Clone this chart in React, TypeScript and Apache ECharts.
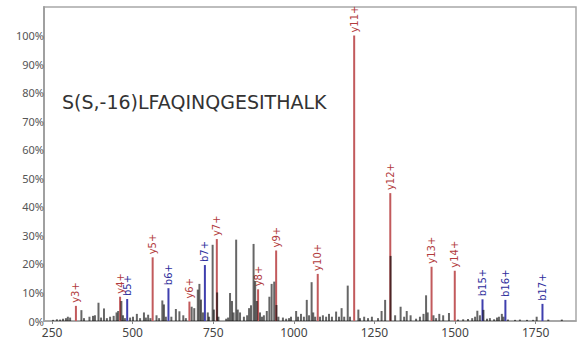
import React, { useEffect, useRef } from "react";
import * as echarts from "echarts";

const peptide = "S(S,-16)LFAQINQGESITHALK";

const xTicks = [250, 500, 750, 1000, 1250, 1500, 1750];

const ionLabels = ["y3+", "y4+", "b5+", "y5+", "b6+", "y6+", "b7+", "y7+", "y8+", "y9+", "y10+", "y11+", "y12+", "y13+", "y14+", "b15+", "b16+", "b17+"];
const ionMz = [324, 461, 483, 562, 611, 676, 724, 761, 889, 945, 1074, 1187, 1299, 1427, 1499, 1585, 1656, 1771];
const ionIntensity = [5.3, 8.5, 7.7, 22.3, 11.5, 6.8, 19.6, 28.7, 11.1, 24.7, 16.5, 100, 44.8, 19.0, 17.6, 7.6, 7.4, 6.0];

const peakMz = [
  253, 265, 275, 284, 293, 299, 306, 341, 349, 366, 377, 383, 394, 402, 411, 420, 430, 441, 450, 455,
  465, 470, 476, 492, 501, 513, 523, 535, 541, 548, 555, 574, 582, 592, 597, 603, 620, 634, 645, 657,
  665, 683, 691, 702, 707, 712, 718, 733, 737, 748, 752, 762, 766, 790, 796, 802, 808, 813, 821, 826,
  833, 845, 855, 861, 867, 875, 880, 885, 895, 901, 907, 916, 924, 931, 939, 946, 952, 966, 976, 985,
  991, 1007, 1013, 1022, 1031, 1040, 1047, 1055, 1060, 1066, 1081, 1090, 1100, 1109, 1118, 1131, 1140, 1148, 1156, 1167,
  1174, 1200, 1205, 1218, 1230, 1242, 1261, 1272, 1283, 1300, 1314, 1331, 1342, 1350, 1362, 1379, 1391, 1402, 1410, 1415,
  1433, 1441, 1451, 1463, 1481, 1509, 1525, 1540, 1553, 1562, 1569, 1577, 1588, 1599, 1608, 1621, 1630, 1636, 1645, 1650,
  1664, 1686, 1701, 1723, 1742, 1753, 1789, 1831,
];
const peakIntensity = [
  0.4, 0.6, 0.5, 0.8, 1.0, 1.5, 1.2, 3.8, 1.0, 1.5, 1.8, 2.0, 6.4, 1.2, 4.4, 1.0, 1.5, 1.8, 3.0, 3.5,
  7.0, 2.0, 1.0, 1.2, 1.5, 2.5, 1.0, 3.0, 1.2, 2.2, 1.0, 2.0, 1.0, 7.2, 5.8, 1.5, 1.5, 4.2, 3.4, 2.0,
  1.0, 5.0, 4.5, 11.0, 13.0, 7.5, 3.0, 3.0, 1.5, 26.7, 4.0, 10.0, 1.5, 0.8, 1.2, 9.8, 7.0, 3.0, 28.5, 4.0,
  3.0, 1.5, 2.0, 4.5, 5.5, 27.0, 14.0, 7.0, 3.0, 1.5, 2.0, 3.5, 8.5, 13.0, 13.8, 5.6, 1.5, 1.2, 0.8, 1.0,
  1.5, 3.5, 1.5, 2.5, 1.5, 7.4, 2.0, 13.6, 3.0, 1.5, 1.5, 2.0, 1.5, 2.5, 1.5, 3.3, 1.5, 4.5, 1.5, 12.4,
  1.5, 4.0, 1.0, 1.5, 1.0, 1.5, 1.0, 3.5, 7.4, 22.8, 2.0, 5.0, 1.5, 3.5, 2.0, 0.8, 1.5, 2.5, 9.0, 3.0,
  2.0, 1.0, 2.5, 2.0, 2.8, 0.5, 0.6, 0.7, 1.0, 1.5, 3.6, 2.0, 3.9, 0.8, 1.0, 0.6, 1.2, 1.5, 2.5, 1.5,
  0.5, 0.4, 0.5, 0.4, 0.4, 1.5, 0.5, 0.5,
];

const RED_BAR = "#c25a5c";
const RED_TEXT = "#b23c3e";
const BLUE_BAR = "#3f3fae";
const BLUE_TEXT = "#2f2f9c";

export default function App() {
  const ref = useRef<HTMLDivElement>(null);

  useEffect(() => {
    if (!ref.current) return;
    const chart = echarts.init(ref.current, undefined, { renderer: "svg" });

    const ionData = ionMz.map((m, i) => [m, ionIntensity[i], i]);
    const peakData = peakMz.map((m, i) => [m, peakIntensity[i]]);

    chart.setOption({
      animation: false,
      grid: {
        left: 44,
        right: 5,
        top: 7,
        bottom: 20,
        show: true,
        borderColor: "#a8a8a8",
        borderWidth: 1.5,
        backgroundColor: "transparent",
      },
      xAxis: {
        type: "value",
        min: 225,
        max: 1875,
        axisLine: { show: true, onZero: false, lineStyle: { color: "#a0a0a0", width: 1.5 } },
        axisTick: { show: true, length: 3, customValues: xTicks, lineStyle: { color: "#888" } },
        axisLabel: {
          customValues: xTicks,
          formatter: (v: number) => String(v),
          color: "#444",
          fontSize: 12,
          margin: 5,
          fontFamily: "Noto Sans",
        },
        splitLine: { show: false },
      },
      yAxis: {
        type: "value",
        min: 0,
        max: 110,
        interval: 10,
        axisLine: { show: true, lineStyle: { color: "#a0a0a0", width: 2 } },
        axisTick: { show: false },
        axisLabel: {
          showMaxLabel: false,
          formatter: (v: number) => (v > 100 ? "" : v + "%"),
          color: "#555",
          fontSize: 11,
          margin: 0,
          fontFamily: "Noto Sans",
        },
        splitLine: { show: false },
      },
      graphic: [
        {
          type: "text",
          left: 62,
          top: 92,
          style: {
            text: peptide,
            fill: "#333",
            font: '19px "DejaVu Sans"',
          },
        },
      ],
      series: [
        {
          type: "custom",
          name: "ions",
          data: ionData,
          encode: { x: 0, y: 1 },
          renderItem: (params: any, api: any) => {
            const m = api.value(0);
            const h = api.value(1);
            const idx = api.value(2);
            const label = ionLabels[idx];
            const isB = label.charAt(0) === "b";
            const top = api.coord([m, h]);
            const base = api.coord([m, 0]);
            return {
              type: "group",
              children: [
                {
                  type: "rect",
                  shape: { x: top[0] - 1, y: top[1], width: 2, height: base[1] - top[1] },
                  style: { fill: isB ? BLUE_BAR : RED_BAR },
                },
                {
                  type: "text",
                  x: top[0],
                  y: top[1] - 3,
                  rotation: Math.PI / 2,
                  style: {
                    text: label,
                    fill: isB ? BLUE_TEXT : RED_TEXT,
                    font: '10px "DejaVu Sans"',
                    align: "left",
                    verticalAlign: "middle",
                  },
                },
              ],
            };
          },
        },
        {
          type: "custom",
          name: "peaks",
          data: peakData,
          encode: { x: 0, y: 1 },
          renderItem: (params: any, api: any) => {
            const m = api.value(0);
            const h = api.value(1);
            const top = api.coord([m, h]);
            const base = api.coord([m, 0]);
            return {
              type: "rect",
              shape: { x: top[0] - 1, y: top[1], width: 2, height: base[1] - top[1] },
              style: { fill: "#000", opacity: 0.6 },
            };
          },
        },
      ],
    });

    return () => chart.dispose();
  }, []);

  return (
    <div
      ref={ref}
      style={{ position: "fixed", left: 0, top: 0, width: 581, height: 341, background: "#fff" }}
    />
  );
}
